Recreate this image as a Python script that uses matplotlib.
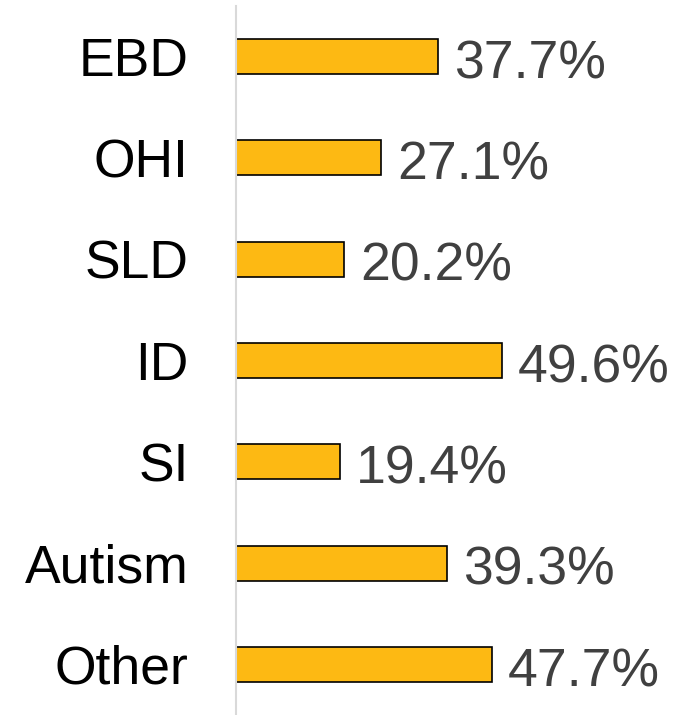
import matplotlib
matplotlib.use("Agg")
import matplotlib.pyplot as plt

categories = ["EBD", "OHI", "SLD", "ID", "SI", "Autism", "Other"]
values = [37.7, 27.1, 20.2, 49.6, 19.4, 39.3, 47.7]
labels = ["37.7%", "27.1%", "20.2%", "49.6%", "19.4%", "39.3%", "47.7%"]

plt.rcParams['font.family'] = ['Liberation Sans', 'DejaVu Sans']

fig = plt.figure(figsize=(6.85, 7.15), dpi=100)
ax = fig.add_axes([236 / 685, 0, 1 - 236 / 685, 1 - 6 / 715])

y = list(range(len(categories)))
ax.barh(y, values, height=0.345, color='#FDB913', edgecolor='black', linewidth=1.2)

# value labels sit a little below the bar centre, like the original
for yi, v, lab in zip(y, values, labels):
    ax.text(v + 3.0, yi + 0.215, lab, va='baseline', ha='left', fontsize=38.5, color='#404040')

ax.set_yticks(y)
ax.set_yticklabels(categories, fontsize=38.5, color='black')
ax.tick_params(axis='y', length=0, pad=34)
ax.set_xticks([])
ax.set_ylim(len(categories) - 0.5, -0.5)
ax.set_xlim(0, 449 / 5.36)

for s in ['top', 'right', 'bottom']:
    ax.spines[s].set_visible(False)
ax.spines['left'].set_color('#d9d9d9')
ax.spines['left'].set_linewidth(1.5)

fig.savefig("out.png", dpi=100)
